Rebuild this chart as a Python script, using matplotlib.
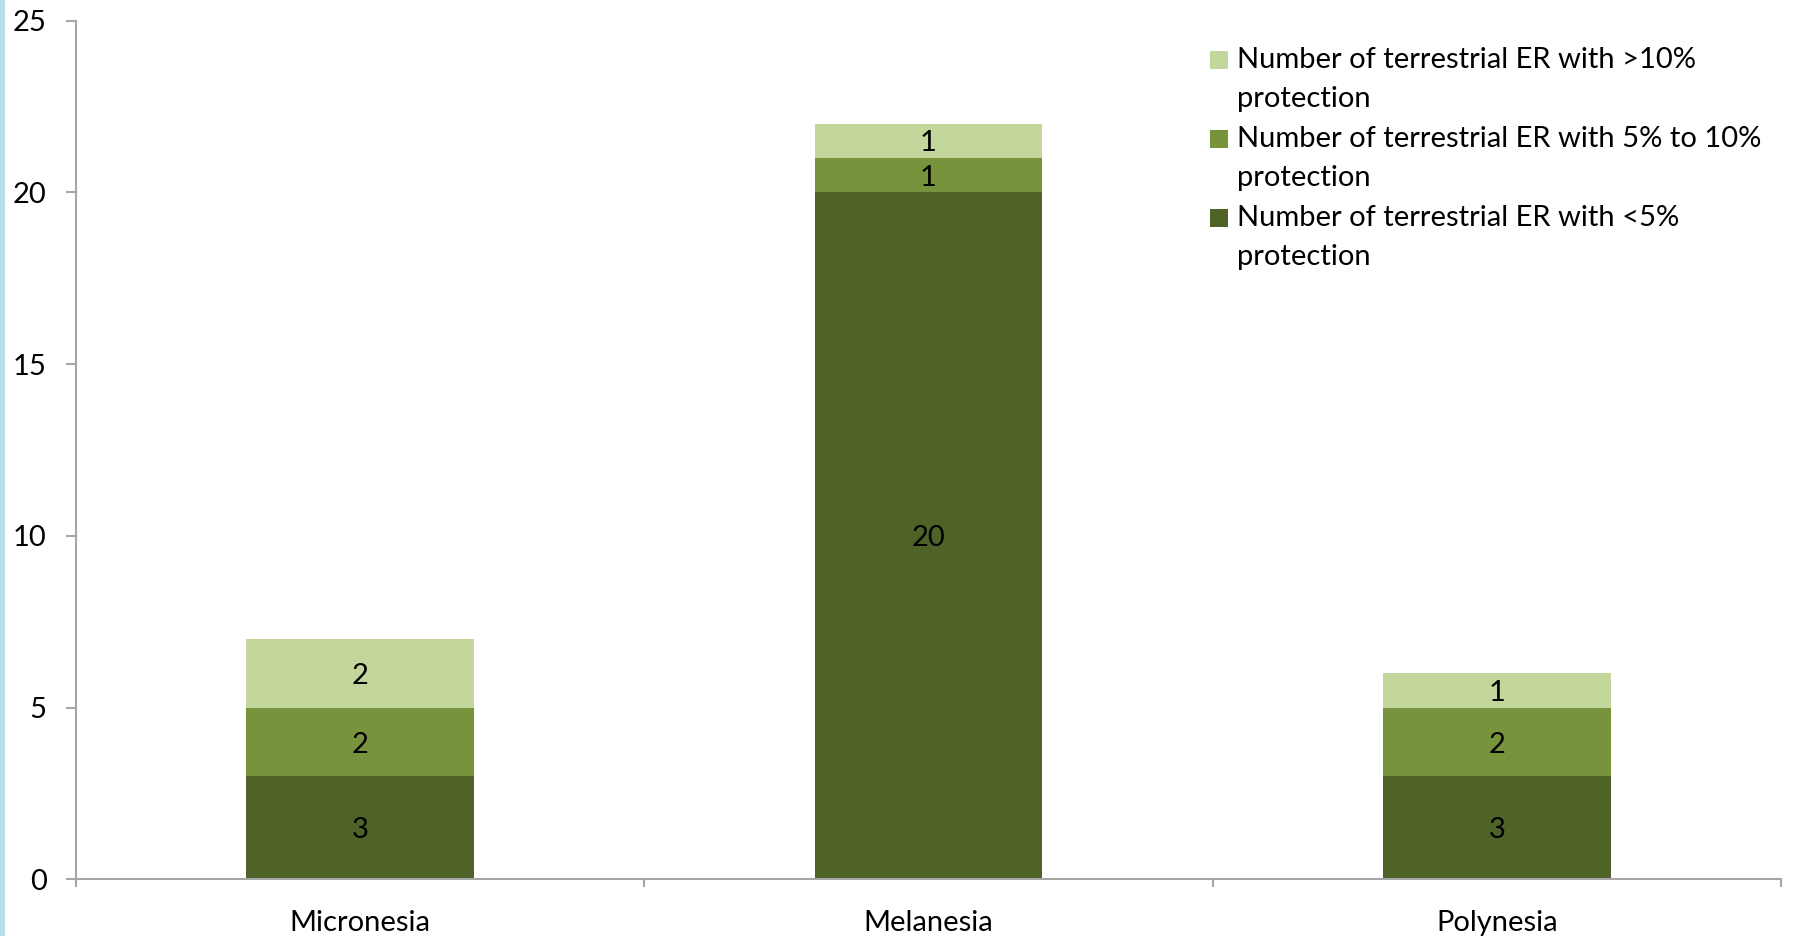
import matplotlib
matplotlib.use("Agg")
import matplotlib.pyplot as plt
from matplotlib.patches import Rectangle
import numpy as np

plt.rcParams['font.family'] = ['Lato', 'DejaVu Sans']

regions = ["Micronesia", "Melanesia", "Polynesia"]
below_5 = [3, 20, 3]
between_5_10 = [2, 1, 2]
above_10 = [2, 1, 1]

series_labels = [
    "Number of terrestrial ER with >10%\nprotection",
    "Number of terrestrial ER with 5% to 10%\nprotection",
    "Number of terrestrial ER with <5%\nprotection",
]
colors = {"dark": "#4F6228", "mid": "#77933C", "light": "#C3D69B"}
FS = 21

fig = plt.figure(figsize=(17.98, 9.36), dpi=100)
ax = fig.add_axes([0.0421, 0.0604, 0.9485, 0.9176])

# light blue stripe at the left edge of the slide
fig.patches.append(Rectangle((0, 0), 5 / 1798, 1, transform=fig.transFigure,
                             facecolor="#B7DDE8", edgecolor="none", zorder=0))

x = np.arange(len(regions))
width = 0.4
b1 = np.array(below_5)
b2 = np.array(between_5_10)
b3 = np.array(above_10)

layers = [(b1, np.zeros(3), colors["dark"]),
          (b2, b1, colors["mid"]),
          (b3, b1 + b2, colors["light"])]
for vals, base, col in layers:
    ax.bar(x, vals, width, bottom=base, color=col, edgecolor="none", zorder=2)
    for xi, v, b0 in zip(x, vals, base):
        ax.text(xi, b0 + v / 2, str(v), ha="center", va="center_baseline",
                fontsize=FS, color="black", zorder=3)

ax.set_xlim(-0.5, 2.5)
ax.set_ylim(0, 25)
ax.set_yticks([0, 5, 10, 15, 20, 25])
ax.set_xticks(x)
ax.set_xticklabels(regions)
ax.set_xticks([-0.5, 0.5, 1.5, 2.5], minor=True)

spine_col = "#A6A6A6"
for s in ["top", "right"]:
    ax.spines[s].set_visible(False)
for s in ["left", "bottom"]:
    ax.spines[s].set_color(spine_col)
    ax.spines[s].set_linewidth(1.5)

ax.tick_params(axis="y", direction="out", length=7, width=1.5, color=spine_col,
               labelsize=FS, pad=14)
ax.tick_params(axis="x", which="major", length=0, labelsize=FS, pad=22)
ax.tick_params(axis="x", which="minor", direction="out", length=6, width=1.5,
               color=spine_col)

# legend drawn in axes-fraction coordinates
leg_colors = [colors["light"], colors["mid"], colors["dark"]]
x_sq = (1210 - 75.7) / 1705.3
sq_w = 18 / 1705.3
sq_h = 18 / 859.0
line_h = 39.5 / 859.0
y_first = 1 - (60 - 20.6) / 859.0
for i, (lab, col) in enumerate(zip(series_labels, leg_colors)):
    yc = y_first - i * 2 * line_h
    ax.add_patch(Rectangle((x_sq, yc - sq_h / 2), sq_w, sq_h, transform=ax.transAxes,
                           facecolor=col, edgecolor="none", clip_on=False))
    first, second = lab.split("\n")
    ax.text(x_sq + 27 / 1705.3, yc, first, transform=ax.transAxes, ha="left",
            va="center", fontsize=FS)
    ax.text(x_sq + 27 / 1705.3, yc - line_h, second, transform=ax.transAxes,
            ha="left", va="center", fontsize=FS)

fig.savefig("out.png", dpi=100, facecolor="white")
